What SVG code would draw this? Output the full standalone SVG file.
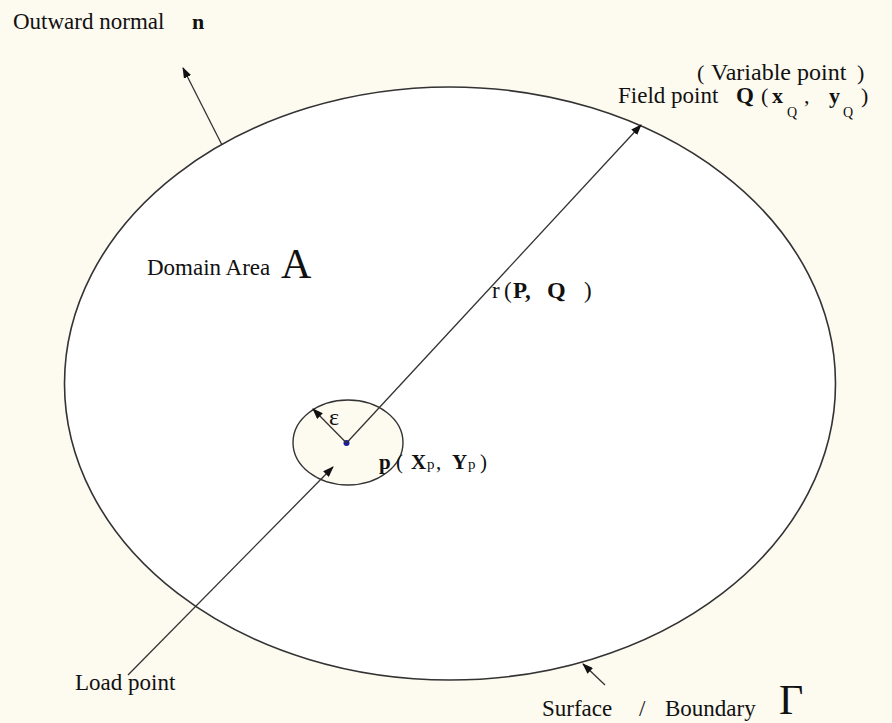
<svg xmlns="http://www.w3.org/2000/svg" width="892" height="723" viewBox="0 0 892 723">
  <defs>
    <marker id="arr" markerUnits="userSpaceOnUse" markerWidth="11" markerHeight="8" refX="10" refY="4" orient="auto">
      <path d="M0,0 L11,4 L0,8 z" fill="#111"/>
    </marker>
    <style>
      text { font-family: "Liberation Serif", "Times New Roman", "DejaVu Serif", serif; fill: #111; }
      .b { font-weight: bold; }
      .ln { stroke: #333; stroke-width: 1.3; fill: none; }
    </style>
  </defs>
  <rect x="0" y="0" width="892" height="723" fill="#FDFAF0"/>

  <g id="domain">
    <ellipse cx="450" cy="383.5" rx="385.5" ry="296.5" fill="#FFFFFF" stroke="#333" stroke-width="1.6"/>
  </g>
  <g id="exclusion">
    <ellipse cx="348" cy="442.5" rx="55" ry="42.5" fill="#FDFAF0" stroke="#333" stroke-width="1.4"/>
  </g>
  <g id="source-point">
    <circle cx="346.5" cy="443" r="3" fill="#1a1aa8"/>
  </g>

  <g id="connectors">
    <line class="ln" x1="346.5" y1="443" x2="641" y2="125" marker-end="url(#arr)"/>
    <line class="ln" x1="128" y1="675" x2="333" y2="467" marker-end="url(#arr)"/>
    <line class="ln" x1="346.5" y1="443" x2="313" y2="409" marker-end="url(#arr)"/>
    <line class="ln" x1="222" y1="145" x2="183" y2="68" marker-end="url(#arr)"/>
    <line class="ln" x1="605" y1="685" x2="583" y2="664" marker-end="url(#arr)"/>
  </g>

  <g id="labels">
    <text x="13" y="29" font-size="23">Outward normal</text>
    <text class="b" x="192" y="29" font-size="22">n</text>

    <text x="697" y="80" font-size="22">(</text>
    <text x="711" y="80" font-size="24">Variable point</text>
    <text x="857" y="80" font-size="22">)</text>
    <text x="618" y="103" font-size="23">Field point</text>
    <text class="b" x="736" y="103" font-size="23">Q</text>
    <text x="761" y="103" font-size="22">(</text>
    <text class="b" x="772" y="103" font-size="22">x</text>
    <text x="787" y="117" font-size="14">Q</text>
    <text x="804" y="103" font-size="22">,</text>
    <text class="b" x="829" y="103" font-size="22">y</text>
    <text x="843" y="117" font-size="14">Q</text>
    <text x="861" y="103" font-size="22">)</text>

    <text x="147" y="275" font-size="23">Domain Area</text>
    <text x="281" y="278" font-size="42">A</text>

    <text x="492" y="298" font-size="23">r</text>
    <text x="504" y="298" font-size="23">(</text>
    <text class="b" x="513" y="298" font-size="23">P,</text>
    <text class="b" x="547" y="298" font-size="24">Q</text>
    <text x="584" y="298" font-size="23">)</text>

    <text x="329" y="425" font-size="24">ε</text>

    <text class="b" x="379" y="469" font-size="21">p</text>
    <text x="396" y="469" font-size="21">(</text>
    <text class="b" x="411" y="469" font-size="21">X</text>
    <text x="427" y="469" font-size="15">p</text>
    <text x="436" y="469" font-size="21">,</text>
    <text class="b" x="452" y="469" font-size="21">Y</text>
    <text x="468" y="469" font-size="15">p</text>
    <text x="480" y="469" font-size="21">)</text>

    <text x="75" y="690" font-size="23">Load point</text>

    <text x="542" y="716" font-size="23">Surface</text>
    <text x="639" y="716" font-size="23">/</text>
    <text x="665" y="716" font-size="23">Boundary</text>
    <text x="779" y="714" font-size="42">Γ</text>
  </g>
</svg>
